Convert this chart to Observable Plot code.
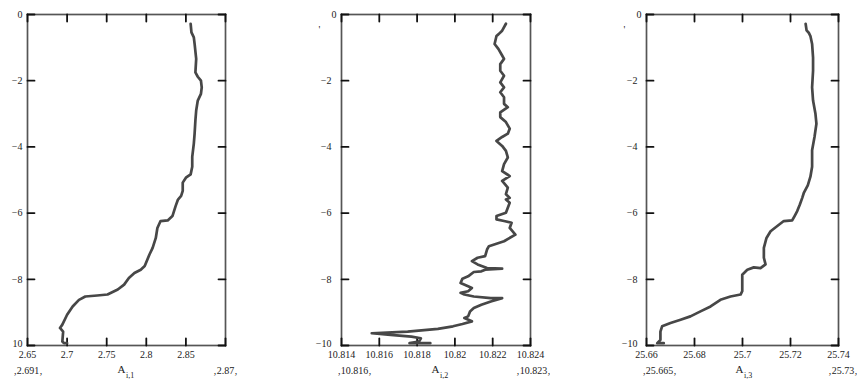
<!DOCTYPE html>
<html>
<head>
<meta charset="utf-8">
<script src="https://cdn.jsdelivr.net/npm/d3@7"></script>
<script src="https://cdn.jsdelivr.net/npm/@observablehq/plot@0.6"></script>
<style>
  html, body { margin: 0; padding: 0; background: #fff; }
  #row { display: flex; width: 857px; height: 381px; }
  #row svg { display: block; }
  #row svg, #row svg text { font-family: "Liberation Serif", "Times New Roman", serif !important; }
</style>
</head>
<body>
<div id="row"></div>
<script>
// ---- Y axis (depth) ----
const yTicks = [0, -2, -4, -6, -8, -10];
const yTickLabels1 = ["0", "−2", "−4", "−6", "−8", "10"];
const yTickLabels = ["0", "−2", "−4", "−6", "−8", "−10"];

// ---- Panel 1: A(i,1) ----
const depth1 = [-0.28,-0.54,-0.69,-0.89,-1.34,-1.75,-1.88,-2.0,-2.2,-2.4,-2.6,-2.9,-3.2,-3.6,-3.9,-4.3,-4.6,-4.83,-4.93,-5.08,
  -5.33,-5.48,-5.59,-5.79,-6.09,-6.22,-6.24,-6.45,-6.75,-7.05,-7.25,-7.6,-7.71,-7.81,-7.96,-8.16,-8.31,-8.46,-8.49,-8.52,-8.62,-8.82,-9.07,-9.37,-9.47,-9.58,-9.88,-9.93,-9.93];
const a1 = [2.856,2.857,2.860,2.861,2.863,2.862,2.865,2.869,2.870,2.869,2.865,2.863,2.862,2.861,2.860,2.858,2.858,2.856,2.850,2.846,
  2.846,2.844,2.840,2.837,2.833,2.827,2.818,2.814,2.812,2.808,2.804,2.798,2.793,2.785,2.778,2.772,2.764,2.751,2.738,2.723,2.715,2.707,2.700,2.694,2.691,2.695,2.694,2.696,2.700];
const x1Ticks = [2.65, 2.7, 2.75, 2.8, 2.85, 2.9];
const x1Labels = [2.65, 2.7, 2.75, 2.8, 2.85];

// ---- Panel 2: A(i,2) ----
const depth2 = [-0.28,-0.49,-0.6,-0.65,-0.89,-1.04,-1.24,-1.34,-1.5,-1.7,-1.85,-2.05,-2.2,-2.35,-2.5,-2.7,-2.8,-2.96,-3.1,-3.25,
  -3.45,-3.6,-3.7,-3.82,-3.97,-4.12,-4.32,-4.52,-4.73,-4.88,-5.03,-5.23,-5.43,-5.54,
  -5.59,-5.69,-5.84,-5.99,-6.09,-6.19,-6.24,-6.29,-6.45,-6.65,-6.85,-7.0,-7.1,-7.3,-7.35,-7.45,-7.55,-7.66,-7.68,-7.71,-7.76,-7.78,
  -7.91,-7.98,-8.11,-8.21,-8.26,-8.36,-8.41,-8.46,-8.52,-8.57,-8.57,-8.67,-8.77,-8.87,-8.97,-9.12,-9.17,-9.27,-9.35,-9.42,-9.5,
  -9.58,-9.63,-9.68,-9.73,-9.78,-9.88,-9.93,-9.93];
const a2 = [10.8227,10.8225,10.8223,10.8222,10.8221,10.8223,10.8225,10.8226,10.8224,10.8224,10.8226,10.8224,10.8226,10.8224,10.8226,10.8226,10.8228,10.8224,10.8224,10.8227,
  10.8229,10.8228,10.8225,10.8222,10.8225,10.8227,10.8228,10.8226,10.8225,10.8229,10.8225,10.8228,10.8227,10.8229,
  10.8227,10.8229,10.8228,10.8227,10.8222,10.8222,10.8226,10.8230,10.8229,10.8232,10.8226,10.8218,10.8217,10.8216,10.8212,10.8209,10.8212,10.8217,10.8225,10.8216,10.8214,10.8210,
  10.8207,10.8204,10.8203,10.8207,10.8209,10.8207,10.8203,10.8205,10.8210,10.8219,10.8225,10.8219,10.8214,10.8210,10.8208,10.8207,10.8205,10.8209,10.8204,10.8199,10.8191,
  10.8175,10.8156,10.8166,10.8177,10.8182,10.8181,10.8176,10.8187];
const x2Ticks = [10.814, 10.816, 10.818, 10.82, 10.822, 10.824];
const x2Labels = [10.814, 10.816, 10.818, 10.82, 10.822, 10.824];

// ---- Panel 3: A(i,3) ----
const depth3 = [-0.28,-0.48,-0.55,-0.65,-0.89,-1.3,-1.7,-2.2,-2.6,-3.0,-3.3,-3.7,-4.1,-4.6,-4.9,-5.16,-5.4,
  -5.54,-5.74,-5.94,-6.09,-6.22,-6.24,-6.39,-6.55,-6.75,-7.05,-7.35,-7.55,-7.66,-7.64,-7.71,-7.86,-8.16,-8.36,-8.46,-8.52,-8.62,-8.82,-8.97,-9.12,-9.22,-9.32,-9.42,-9.58,-9.83,-9.93,-9.93];
const a3 = [25.7263,25.7267,25.7276,25.7283,25.7290,25.7294,25.7294,25.7290,25.7294,25.7304,25.7308,25.7300,25.7290,25.7290,25.7283,25.7272,25.7255,
  25.7249,25.7239,25.7228,25.7217,25.7207,25.7172,25.7145,25.7117,25.7100,25.7089,25.7089,25.7096,25.7075,25.7047,25.7020,25.6999,25.6999,25.6999,25.6992,25.6950,25.6908,25.6867,25.6825,25.6783,25.6742,25.6700,25.6665,25.6658,25.6658,25.6645,25.6672];
const x3Ticks = [25.66, 25.68, 25.7, 25.72, 25.74];
const x3Labels = [25.66, 25.68, 25.7, 25.72, 25.74];

// ---- Labels below each axis ----
const minLabels = ["‚2.691‚", "‚10.816‚", "‚25.665‚"];
const maxLabels = ["‚2.87‚", "‚10.823‚", "‚25.73‚"];
const axisNames = ["A", "A", "A"];
const axisSubs = ["i,1", "i,2", "i,3"];

const panels = [
  {depth: depth1, values: a1, domain: [2.65, 2.9], ticks: x1Ticks, labels: x1Labels, yLabels: yTickLabels1,
   width: 250, ml: 27, mr: 25, yPad: 5, minDx: -14, maxDx: 12, nameDx: -1, mark: false},
  {depth: depth2, values: a2, domain: [10.814, 10.824], ticks: x2Ticks, labels: x2Labels, yLabels: yTickLabels,
   width: 300, ml: 91, mr: 20, yPad: 10, minDx: -4, maxDx: 20, nameDx: 3.5, mark: true},
  {depth: depth3, values: a3, domain: [25.66, 25.74], ticks: x3Ticks, labels: x3Labels, yLabels: yTickLabels,
   width: 307, ml: 96, mr: 19, yPad: 9, minDx: -4, maxDx: 19, nameDx: 1, mark: true}
];

const row = document.getElementById("row");
const ink = "#111111";
const fmtX = d => String(d);
const T = 7;             // inward tick length, px
const H = 381, MT = 14, MB = 36;
const FH = H - MT - MB;  // frame height, px
const Y0 = -10, Y1 = 0;

panels.forEach((p, k) => {
  const data = p.depth.map((d, i) => ({depth: d, value: p.values[i]}));
  const yLab = d => p.yLabels[yTicks.indexOf(d)];
  const FW = p.width - p.ml - p.mr;           // frame width, px
  const [X0, X1] = p.domain;
  const dyU = T / FH * (Y1 - Y0);             // tick length in y units
  const dxU = T / FW * (X1 - X0);             // tick length in x units
  // inward tick segments, built from the tick arrays and the scale domains
  const seg = [];
  p.ticks.forEach((t, i) => {
    seg.push({id: "b" + i, x: t, y: Y0}, {id: "b" + i, x: t, y: Y0 + dyU});
    seg.push({id: "t" + i, x: t, y: Y1}, {id: "t" + i, x: t, y: Y1 - dyU});
  });
  yTicks.forEach((t, i) => {
    seg.push({id: "l" + i, x: X0, y: t}, {id: "l" + i, x: X0 + dxU, y: t});
    seg.push({id: "r" + i, x: X1, y: t}, {id: "r" + i, x: X1 - dxU, y: t});
  });
  const marks = [
    Plot.frame({stroke: "#555555", strokeWidth: 1.7}),
    Plot.line(seg, {x: "x", y: "y", z: "id", stroke: ink, strokeWidth: 1.8}),
    // tick labels
    Plot.axisX(p.labels, {anchor: "bottom", tickSize: 0, tickPadding: 5, tickFormat: fmtX, label: null, fill: "#222"}),
    Plot.axisY([0], {anchor: "left", tickSize: 0, tickPadding: 5, tickFormat: yLab, label: null, fill: "#222"}),
    Plot.axisY([-2, -4, -6, -8], {anchor: "left", tickSize: 0, tickPadding: p.yPad, tickFormat: yLab, label: null, fill: "#222"}),
    Plot.axisY([-10], {anchor: "left", tickSize: 0, tickPadding: p.yPad, dy: -2, tickFormat: yLab, label: null, fill: "#222"}),
    // the profile
    Plot.line(data, {x: "value", y: "depth", stroke: "#474747", strokeWidth: 2.7, strokeLinejoin: "round", strokeLinecap: "round"}),
    // range labels and axis name under the axis
    Plot.text([minLabels[k]], {frameAnchor: "bottom-left", textAnchor: "start", dx: p.minDx, dy: 28, text: d => d, fill: "#222"}),
    Plot.text([maxLabels[k]], {frameAnchor: "bottom-right", textAnchor: "end", dx: p.maxDx, dy: 28, text: d => d, fill: "#222"}),
    Plot.text([axisNames[k]], {frameAnchor: "bottom", textAnchor: "end", dx: p.nameDx, dy: 27, text: d => d, fontSize: 11, fill: "#222"}),
    Plot.text([axisSubs[k]], {frameAnchor: "bottom", textAnchor: "start", dx: p.nameDx + 0.5, dy: 32, text: d => d, fontSize: 8, fill: "#222"})
  ];
  if (p.mark) marks.push(Plot.text(["'"], {frameAnchor: "top-left", dx: -23, dy: 11, text: d => d, fontSize: 10, fill: "#222"}));
  const chart = Plot.plot({
    width: p.width,
    height: H,
    marginLeft: p.ml,
    marginRight: p.mr,
    marginTop: MT,
    marginBottom: MB,
    style: {fontFamily: "'Liberation Serif', 'Times New Roman', serif", fontSize: "10px", background: "#fff", color: "#222", overflow: "visible"},
    x: {domain: p.domain},
    y: {domain: [Y0, Y1]},
    marks
  });
  row.appendChild(chart);
});
</script>
</body>
</html>
